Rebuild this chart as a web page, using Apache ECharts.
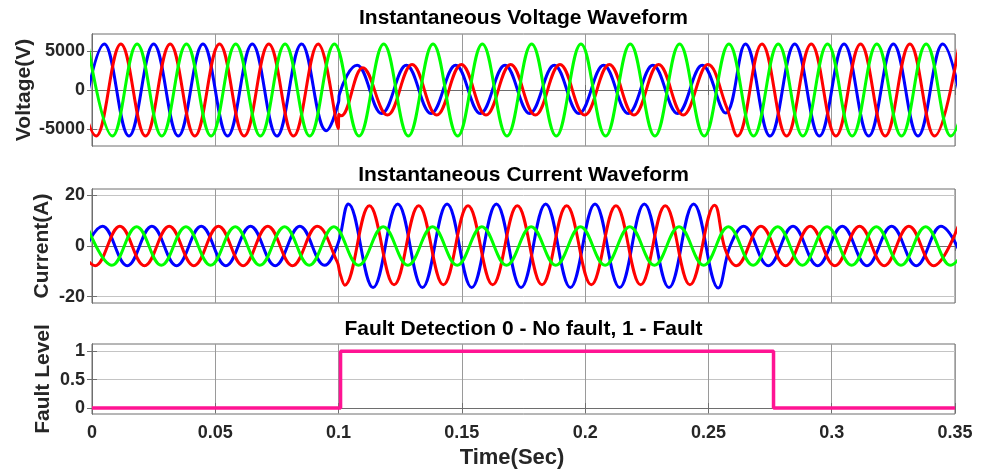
<!DOCTYPE html>
<html>
<head>
<meta charset="utf-8">
<script src="https://cdn.jsdelivr.net/npm/echarts@6/dist/echarts.min.js"></script>
<style>
  html, body { margin: 0; padding: 0; background: #fff; }
  #chart { width: 987px; height: 469px; }
</style>
</head>
<body>
<div id="chart"></div>
<script>
// waveform turning points: [time (s), value]
// phase A (blue), B (red), C (green); fault from 0.1 s to ~0.258 s

const voltA = [[-0.005,-5880],[0.005,5880],[0.015,-5880],[0.025,5880],[0.035,-5880],[0.045,5880],[0.055,-5880],[0.065,5880],[0.075,-5880],[0.085,5880],[0.095,-5200],
  [0.1,-1550],[0.1003,-600],
  [0.1075,3150],[0.1175,-3000],[0.1275,3150],[0.1375,-3000],[0.1475,3150],[0.1575,-3000],[0.1675,3150],[0.1775,-3000],[0.1875,3150],[0.1975,-3000],[0.2075,3150],[0.2175,-3000],[0.2275,3150],[0.2375,-3000],[0.2475,3150],[0.2570,-2950],
  [0.265,5880],[0.275,-5880],[0.285,5880],[0.295,-5880],[0.305,5880],[0.315,-5880],[0.325,5880],[0.335,-5880],[0.345,5880],[0.355,-5880]];

const voltB = [[-0.0083,5880],[0.0017,-5880],[0.0117,5880],[0.0217,-5880],[0.0317,5880],[0.0417,-5880],[0.0517,5880],[0.0617,-5880],[0.0717,5880],[0.0817,-5880],[0.0917,5880],
  [0.0999,-4900],[0.1001,-3100],[0.1010,-3300],
  [0.1098,2850],[0.1198,-3200],[0.1298,3250],[0.1398,-3200],[0.1498,3250],[0.1598,-3200],[0.1698,3250],[0.1798,-3200],[0.1898,3250],[0.1998,-3200],[0.2098,3250],[0.2198,-3200],[0.2298,3250],[0.2398,-3200],[0.2498,3250],
  [0.2575,-2300],
  [0.2617,-5880],[0.2717,5880],[0.2817,-5880],[0.2917,5880],[0.3017,-5880],[0.3117,5880],[0.3217,-5880],[0.3317,5880],[0.3417,-5880],[0.3517,5880]];

const voltC = [[-0.0017,5880],[0.0083,-5880],[0.0183,5880],[0.0283,-5880],[0.0383,5880],[0.0483,-5880],[0.0583,5880],[0.0683,-5880],[0.0783,5880],[0.0883,-5880],[0.0983,5880],
  [0.1083,-5880],[0.1183,5880],[0.1283,-5880],[0.1383,5880],[0.1483,-5880],[0.1583,5880],[0.1683,-5880],[0.1783,5880],[0.1883,-5880],[0.1983,5880],[0.2083,-5880],[0.2183,5880],
  [0.2283,-5880],[0.2383,5880],[0.2483,-5880],[0.2583,5880],[0.2683,-5880],[0.2783,5880],[0.2883,-5880],[0.2983,5880],[0.3083,-5880],[0.3183,5880],[0.3283,-5880],[0.3383,5880],[0.3483,-5880],[0.3583,5880]];

const currA = [[-0.0057,-7.8],[0.0043,7.8],[0.0143,-7.8],[0.0243,7.8],[0.0343,-7.8],[0.0443,7.8],[0.0543,-7.8],[0.0643,7.8],[0.0743,-7.8],[0.0843,7.8],[0.0943,-7.6],
  [0.0996,0.5],
  [0.1040,16.6],[0.1140,-16.4],[0.1240,16.6],[0.1340,-16.4],[0.1440,16.6],[0.1540,-16.4],[0.1640,16.6],[0.1740,-16.4],[0.1840,16.6],[0.1940,-16.4],[0.2040,16.6],[0.2140,-16.4],[0.2240,16.6],[0.2340,-16.4],[0.2440,16.6],[0.2540,-16.6],
  [0.2588,0],
  [0.2643,7.8],[0.2743,-7.8],[0.2843,7.8],[0.2943,-7.8],[0.3043,7.8],[0.3143,-7.8],[0.3243,7.8],[0.3343,-7.8],[0.3443,7.8],[0.3543,-7.8]];

const currB = [[-0.0087,7.8],[0.0013,-7.8],[0.0113,7.8],[0.0213,-7.8],[0.0313,7.8],[0.0413,-7.8],[0.0513,7.8],[0.0613,-7.8],[0.0713,7.8],[0.0813,-7.8],[0.0913,7.8],
  [0.0995,-6.4],[0.1005,-10.5],
  [0.1025,-15.5],[0.1125,15.9],[0.1225,-15.3],[0.1325,15.9],[0.1425,-15.3],[0.1525,15.9],[0.1625,-15.3],[0.1725,15.9],[0.1825,-15.3],[0.1925,15.9],[0.2025,-15.3],[0.2125,15.9],[0.2225,-15.3],[0.2325,15.9],[0.2425,-15.3],[0.2525,16.1],
  [0.2568,-1.3],
  [0.2613,-7.8],[0.2713,7.8],[0.2813,-7.8],[0.2913,7.8],[0.3013,-7.8],[0.3113,7.8],[0.3213,-7.8],[0.3313,7.8],[0.3413,-7.8],[0.3513,7.8]];

const currC = [[-0.0019,7.6],[0.0081,-7.6],[0.0181,7.6],[0.0281,-7.6],[0.0381,7.6],[0.0481,-7.6],[0.0581,7.6],[0.0681,-7.6],[0.0781,7.6],[0.0881,-7.6],[0.0981,7.6],
  [0.1081,-7.6],[0.1181,7.6],[0.1281,-7.6],[0.1381,7.6],[0.1481,-7.6],[0.1581,7.6],[0.1681,-7.6],[0.1781,7.6],[0.1881,-7.6],[0.1981,7.6],[0.2081,-7.6],[0.2181,7.6],
  [0.2281,-7.6],[0.2381,7.6],[0.2481,-7.6],[0.2581,7.6],[0.2681,-7.6],[0.2781,7.6],[0.2881,-7.6],[0.2981,7.6],[0.3081,-7.6],[0.3181,7.6],[0.3281,-7.6],[0.3381,7.6],[0.3481,-7.6],[0.3581,7.6]];

const faultLevel = [[0,0],[0.1008,0],[0.1008,1],[0.2764,1],[0.2764,0],[0.35,0]];

const titles = ['Instantaneous Voltage Waveform', 'Instantaneous Current Waveform', 'Fault Detection 0 - No fault, 1 - Fault'];
const yNames = ['Voltage(V)', 'Current(A)', 'Fault Level'];
const xName = 'Time(Sec)';
const yRanges = [[-7150, 7150], [-22.5, 22.5], [-0.105, 1.13]];
const yTicks = [[-5000, 0, 5000], [-20, 0, 20], [0, 0.5, 1]];
const xTicks = [0, 0.35, 0.05];

const FONT = '"Liberation Sans", Arial, Helvetica, sans-serif';
const phaseColors = ['#0000ff', '#ff0000', '#00ff00'];

const chart = echarts.init(document.getElementById('chart'));

const grids = [
  { left: 92, top: 34, width: 863, height: 112 },
  { left: 92, top: 189, width: 863, height: 114 },
  { left: 92, top: 344, width: 863, height: 70 }
];
const titleY = [18, 175, 329];
const nameX = [24, 42, 43];

let xAxes = [], yAxes = [];
grids.forEach((g, i) => {
  g.show = true;
  g.borderColor = '#6e6e6e';
  g.borderWidth = 1;
  g.outerBoundsMode = 'none';
  g.containLabel = false;
  const last = i === grids.length - 1;
  // bottom x axis
  xAxes.push({
    type: 'value', gridIndex: i, min: xTicks[0], max: xTicks[1], interval: xTicks[2],
    axisLine: { show: true, lineStyle: { color: '#6e6e6e' } },
    axisTick: { show: true, inside: true, length: 5, lineStyle: { color: '#6e6e6e' } },
    axisLabel: { show: last, margin: 10, fontSize: 18, fontWeight: 'bold', fontFamily: FONT, color: '#262626',
      formatter: v => String(+v.toFixed(2)) },
    splitLine: { show: true, lineStyle: { color: '#9a9a9a', width: 1 } }
  });
  // top x axis, ticks only
  xAxes.push({
    type: 'value', gridIndex: i, position: 'top', min: xTicks[0], max: xTicks[1], interval: xTicks[2],
    axisLine: { show: true, lineStyle: { color: '#6e6e6e' } },
    axisTick: { show: true, inside: true, length: 5, lineStyle: { color: '#6e6e6e' } },
    axisLabel: { show: false }, splitLine: { show: false }
  });
  yAxes.push({
    type: 'value', gridIndex: i, min: yRanges[i][0], max: yRanges[i][1],
    axisLine: { show: true, lineStyle: { color: '#6e6e6e' } },
    axisTick: { show: true, inside: true, length: 5, customValues: yTicks[i], lineStyle: { color: '#6e6e6e' } },
    axisLabel: { show: true, customValues: yTicks[i], margin: 7, fontSize: 18, fontWeight: 'bold', fontFamily: FONT, color: '#262626',
      formatter: v => String(v) },
    splitLine: { show: true, lineStyle: { color: '#c4c4c4', width: 1 } }
  });
  yAxes.push({
    type: 'value', gridIndex: i, position: 'right', min: yRanges[i][0], max: yRanges[i][1],
    axisLine: { show: true, lineStyle: { color: '#6e6e6e' } },
    axisTick: { show: true, inside: true, length: 5, customValues: yTicks[i], lineStyle: { color: '#6e6e6e' } },
    axisLabel: { show: false }, splitLine: { show: false }
  });
});

function wave(data, color, panel) {
  return {
    type: 'line', data: data, xAxisIndex: panel * 2, yAxisIndex: panel * 2,
    smooth: 0.4, showSymbol: false, clip: true, silent: true,
    lineStyle: { color: color, width: 3 }
  };
}

const series = [
  wave(voltA, phaseColors[0], 0), wave(voltB, phaseColors[1], 0), wave(voltC, phaseColors[2], 0),
  wave(currA, phaseColors[0], 1), wave(currB, phaseColors[1], 1), wave(currC, phaseColors[2], 1),
  { type: 'line', data: faultLevel, xAxisIndex: 4, yAxisIndex: 4, showSymbol: false, silent: true,
    lineStyle: { color: '#ff1493', width: 3.5 } }
];

const graphic = [];
titles.forEach((t, i) => {
  graphic.push({ type: 'text', x: 523.5, y: titleY[i],
    style: { text: t, font: 'bold 21px ' + FONT, fill: '#000', align: 'center', verticalAlign: 'middle',
      textAlign: 'center', textVerticalAlign: 'middle' } });
  const g = grids[i];
  graphic.push({ type: 'text', x: nameX[i], y: g.top + g.height / 2, rotation: Math.PI / 2,
    style: { text: yNames[i], font: 'bold 21px ' + FONT, fill: '#262626', align: 'center', verticalAlign: 'middle',
      textAlign: 'center', textVerticalAlign: 'middle' } });
});
graphic.push({ type: 'text', x: 512, y: 458,
  style: { text: xName, font: 'bold 22px ' + FONT, fill: '#262626', align: 'center', verticalAlign: 'middle',
    textAlign: 'center', textVerticalAlign: 'middle' } });

chart.setOption({
  animation: false,
  backgroundColor: '#fff',
  grid: grids,
  xAxis: xAxes,
  yAxis: yAxes,
  series: series,
  graphic: graphic
});
</script>
</body>
</html>
